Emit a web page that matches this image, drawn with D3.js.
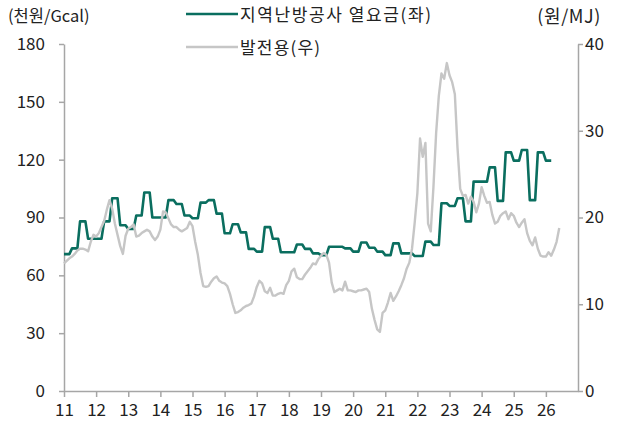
<!DOCTYPE html>
<html><head><meta charset="utf-8">
<script src="https://cdn.jsdelivr.net/npm/d3@7"></script>
<style>
html,body{margin:0;padding:0;background:#fff;}
svg text{font-family:"Noto Sans CJK KR","Noto Sans",sans-serif;fill:#222;}
</style></head>
<body><svg id="c" width="624" height="424"></svg>
<script>
// ---- data ----
const startYear = 11;              // Jan 2011, monthly data
const yearTicks = [11,12,13,14,15,16,17,18,19,20,21,22,23,24,25,26];
const leftTicks = [0,30,60,90,120,150,180];
const rightTicks = [0,10,20,30,40];
const seriesNames = ["지역난방공사 열요금(좌)", "발전용(우)"];
const unitLeft = "(천원/Gcal)";
const unitRight = "(원/MJ)";

// 지역난방공사 열요금 (천원/Gcal), monthly Jan 2011 - Mar 2026
const heatRate = [
 71,71,71,74,74,74,88,88,88,79,79,79,
 79,79,79,88,88,88,100,100,100,86,86,86,
 84,84,84,91,91,91,103,103,103,90,90,90,
 90,90,90,99,99,99,97,97,97,91,91,91,
 89.6,89.6,89.6,97.7,97.7,97.7,99,99,99,92,92,92,
 81.8,81.8,81.8,86.5,86.5,86.5,82.3,82.3,82.3,73.7,73.7,73.7,
 72.3,72.3,72.3,85,85,85,79,79,79,72,72,72,
 72,72,72,76,76,76,73.7,73.7,73.7,71.4,71.4,71.4,
 70.5,70.5,70.5,74.8,74.8,74.8,74.8,74.8,74.8,74,74,74,
 72.3,72.3,72.3,77,77,77,74.3,74.3,74.3,72.3,72.3,72.3,
 70.5,70.5,70.5,76.6,76.6,76.6,71.4,71.4,71.4,71.4,71.4,70,
 70,70,70,77.5,77.5,77.5,75.7,75.7,75.7,97.4,97.4,97.4,
 96,96,96,100,100,100,88,88,88,108.6,108.6,108.6,
 108.6,108.6,108.6,116,116,116,98.6,98.6,98.6,123.8,123.8,123.8,
 119.5,119.5,119.5,125,125,125,99,99,99,123.8,123.8,123.8,
 119.5,119.5,119.5
];

// 발전용 (원/MJ), monthly Jan 2011 - Jun 2026
const powerGas = [
 14.7,15.0,15.3,15.5,15.8,16.2,16.4,16.4,16.3,16.1,17.2,18.0,
 17.8,18.2,18.9,19.6,20.9,22.0,21.0,19.3,18.0,16.7,15.8,17.9,
 18.7,18.9,19.2,17.8,17.9,18.2,18.4,18.6,18.4,17.8,17.4,17.8,
 18.6,20.7,20.6,19.9,19.2,18.9,18.9,18.6,18.4,18.6,18.8,19.5,
 19.0,17.2,15.7,13.6,12.1,12.0,12.1,12.6,13.0,13.2,12.7,12.5,
 12.4,12.1,11.2,10.0,9.0,9.1,9.3,9.6,9.8,9.9,10.1,10.9,
 12.0,12.7,12.4,11.5,11.3,11.9,11.0,11.0,11.2,11.3,11.2,12.2,
 12.7,13.8,14.1,13.1,12.9,12.9,13.4,13.8,14.2,14.7,14.6,15.2,
 15.6,15.9,15.7,14.8,12.5,11.4,11.6,11.8,11.6,12.6,11.6,11.6,
 11.5,11.4,11.6,11.6,11.7,11.8,11.4,9.5,8.2,7.1,6.8,9.0,
 9.3,10.2,11.3,10.4,10.9,11.5,12.2,13.0,14.1,14.8,16.4,19.4,
 22.8,29.1,27.0,28.6,19.3,18.4,23.5,29.7,34.0,36.6,36.0,37.8,
 36.4,35.6,34.2,28.0,23.3,22.5,22.6,21.6,22.4,21.8,20.6,21.6,
 23.5,22.5,21.7,21.8,20.3,19.3,19.5,20.2,20.5,20.7,19.8,20.5,
 20.2,19.4,18.9,19.4,19.8,18.2,17.3,16.8,17.7,16.4,15.6,15.5,
 15.5,16.0,15.6,16.3,17.2,18.8
];

// ---- chart ----
const svg = d3.select("#c");
const M = {left:64, right:578, top:44, bottom:391};
const x = d3.scaleLinear().domain([11,27]).range([M.left, M.right]);
const yL = d3.scaleLinear().domain([0,180]).range([M.bottom, M.top]);
const yR = d3.scaleLinear().domain([0,40]).range([M.bottom, M.top]);
const axisColor = "#a6a6a6";
const green = "#0a6e5f", grey = "#c6c6c6";
const fs = 17;

function styleAxis(g){
  g.selectAll("path,line").attr("stroke", axisColor).attr("stroke-width", 1.5);
  g.selectAll("text").attr("font-size", fs).attr("fill","#222")
   .style("font-family",'"Noto Sans CJK KR","Noto Sans",sans-serif');
}

svg.append("g").attr("transform",`translate(0,${M.bottom})`)
  .call(d3.axisBottom(x).tickValues(yearTicks).tickFormat(d=>d).tickSize(6).tickSizeOuter(0).tickPadding(7))
  .call(styleAxis);
svg.append("g").attr("transform",`translate(${M.left},0)`)
  .call(d3.axisLeft(yL).tickValues(leftTicks).tickSize(5).tickSizeOuter(0).tickPadding(14))
  .call(styleAxis);
svg.append("g").attr("transform",`translate(${M.right},0)`)
  .call(d3.axisRight(yR).tickValues(rightTicks).tickSize(5).tickSizeOuter(0).tickPadding(2))
  .call(styleAxis);

const tOf = i => startYear + i/12;
const lineL = d3.line().x((d,i)=>x(tOf(i))).y(d=>yL(d));
const lineR = d3.line().x((d,i)=>x(tOf(i))).y(d=>yR(d));

svg.append("path").datum(heatRate).attr("d", lineL)
  .attr("fill","none").attr("stroke",green).attr("stroke-width",2.6).attr("stroke-linejoin","round");
svg.append("path").datum(powerGas).attr("d", lineR)
  .attr("fill","none").attr("stroke",grey).attr("stroke-width",2.4).attr("stroke-linejoin","round");

// units
svg.append("text").attr("x",8).attr("y",18).attr("dominant-baseline","middle")
  .attr("font-size",16.5).text(unitLeft);
svg.append("text").attr("x",601).attr("y",18).attr("dominant-baseline","middle")
  .attr("text-anchor","end").attr("font-size",18).attr("letter-spacing",0.6).text(unitRight);

// legend
const leg = [{c:green, y:14, w:2.6, ls:1.6}, {c:grey, y:47, w:2.4, ls:1.2}];
leg.forEach((l,i)=>{
  svg.append("line").attr("x1",186).attr("x2",238).attr("y1",l.y).attr("y2",l.y)
    .attr("stroke",l.c).attr("stroke-width",l.w);
  svg.append("text").attr("x",240).attr("y",l.y+2).attr("dominant-baseline","middle")
    .attr("font-size",17).attr("letter-spacing",l.ls).text(seriesNames[i]);
});
</script></body></html>
